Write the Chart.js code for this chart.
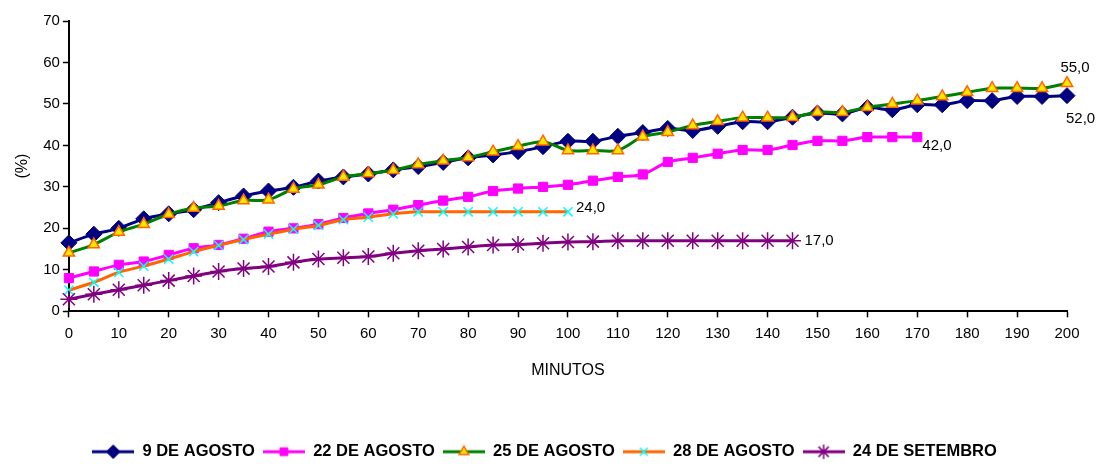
<!DOCTYPE html>
<html>
<head>
<meta charset="utf-8">
<title>Curvas por minuto</title>
<script src="https://cdn.jsdelivr.net/npm/chart.js@4.4.1/dist/chart.umd.min.js"></script>
<style>
  html, body { margin: 0; padding: 0; background: #fff; }
  canvas { display: block; }
</style>
</head>
<body>
<canvas id="curvas" width="1098" height="465"></canvas>
<script>
// Minutes (x) and readings (%) for each day
const minutos = [0, 5, 10, 15, 20, 25, 30, 35, 40, 45, 50, 55, 60, 65, 70, 75, 80, 85, 90, 95,
  100, 105, 110, 115, 120, 125, 130, 135, 140, 145, 150, 155, 160, 165, 170, 175, 180, 185, 190, 195, 200];

const agosto9 = [16.5, 18.6, 20, 22.3, 23.5, 24.5, 26.2, 27.8, 29, 29.9, 31.4, 32.4, 33.1, 34.1, 34.9, 35.9,
  37, 37.7, 38.5, 39.7, 41, 41, 42.2, 43.1, 44.1, 43.6, 44.6, 45.7, 45.7, 46.8, 47.8, 47.6, 49.1, 48.6,
  49.8, 49.8, 50.8, 50.8, 51.8, 51.8, 52];
const agosto22 = [8, 9.6, 11.2, 12, 13.6, 15.2, 16, 17.5, 19.2, 20, 21, 22.5, 23.6, 24.5, 25.6, 26.7,
  27.6, 29, 29.6, 30, 30.5, 31.5, 32.4, 33, 36, 37, 38, 38.9, 38.9, 40.1, 41.1, 41.1, 42, 42, 42];
const agosto25 = [14.1, 16.1, 19.1, 21, 23.4, 24.9, 25.4, 26.7, 26.9, 29.5, 30.5, 32.4, 33.2, 34, 35.4, 36.3,
  37.1, 38.5, 39.8, 40.9, 38.8, 38.8, 38.8, 42.1, 43.2, 44.8, 45.8, 46.7, 46.7, 46.8, 48, 48, 49.2, 50,
  50.8, 51.8, 52.8, 53.8, 53.8, 53.8, 55];
const agosto28 = [5.1, 7, 9.4, 10.9, 12.6, 14.4, 15.9, 17.3, 18.6, 19.8, 20.7, 22.1, 22.7, 23.5, 24, 24,
  24, 24, 24, 24, 24];
const setembro24 = [2.9, 4.1, 5.2, 6.3, 7.4, 8.5, 9.6, 10.3, 10.8, 11.8, 12.6, 12.9, 13.2, 14, 14.6, 15,
  15.5, 16, 16.1, 16.4, 16.7, 16.8, 17, 17, 17, 17, 17, 17, 17, 17];

const yTicks = [0, 10, 20, 30, 40, 50, 60, 70];

const FONTE = '"Liberation Sans", Arial, sans-serif';

function pontos(valores) {
  return valores.map((v, i) => ({ x: minutos[i], y: v }));
}

// line styles per series
const estilos = [
  { label: '9 DE AGOSTO',    data: agosto9,    linha: '#000080', ponto: 'rectRot',  fundo: '#000080', borda: '#000080', raio: 8,   bw: 1 },
  { label: '22 DE AGOSTO',   data: agosto22,   linha: '#FF00FF', ponto: 'rect',     fundo: '#FF00FF', borda: '#FF00FF', raio: 6.5, bw: 1 },
  { label: '25 DE AGOSTO',   data: agosto25,   linha: '#008000', ponto: 'triangle', fundo: '#FFE600', borda: '#FF6600', raio: 6.5, bw: 1.5 },
  { label: '28 DE AGOSTO',   data: agosto28,   linha: '#FF6600', ponto: 'crossRot', fundo: '#00FFFF', borda: '#00FFFF', raio: 6.5, bw: 1.5 },
  { label: '24 DE SETEMBRO', data: setembro24, linha: '#800080', ponto: 'star',     fundo: '#800080', borda: '#800080', raio: 8.5, bw: 1.5 }
];

// small line+marker icons for the legend
function icone(e) {
  const c = document.createElement('canvas');
  c.width = 42; c.height = 18;
  const ctx = c.getContext('2d');
  ctx.strokeStyle = e.linha;
  ctx.lineWidth = 3;
  ctx.beginPath();
  ctx.moveTo(0, 9); ctx.lineTo(42, 9);
  ctx.stroke();
  if (Chart.helpers && Chart.helpers.drawPoint) {
    ctx.fillStyle = e.fundo;
    ctx.strokeStyle = e.borda;
    ctx.lineWidth = e.bw;
    Chart.helpers.drawPoint(ctx, { pointStyle: e.ponto, radius: e.raio * 0.85, borderWidth: e.bw, rotation: 0 }, 21, 9);
  }
  return c;
}

const icones = estilos.map(icone);

// value labels at the end of some series: [dataset, index, dx, dy, align]
const rotulos = [
  [2, 40, 8, -15, 'center'],
  [0, 40, -1, 23, 'left'],
  [1, 34, 5, 9, 'left'],
  [3, 20, 8, -4, 'left'],
  [4, 29, 12, 0, 'left']
];

const rotulosPlugin = {
  id: 'rotulos',
  afterDatasetsDraw(chart) {
    const ctx = chart.ctx;
    ctx.save();
    ctx.font = '15px ' + FONTE;
    ctx.fillStyle = '#000';
    ctx.textBaseline = 'middle';
    rotulos.forEach(([ds, idx, dx, dy, align]) => {
      const el = chart.getDatasetMeta(ds).data[idx];
      const v = chart.data.datasets[ds].data[idx].y;
      ctx.textAlign = align;
      ctx.fillText(v.toFixed(1).replace('.', ','), el.x + dx, el.y + dy);
    });
    ctx.restore();
  }
};

// nudge the legend row a little to the right
const legendaPlugin = {
  id: 'legendaDesloc',
  afterLayout(chart) {
    if (chart.legend) {
      chart.legend.left += 7;
      chart.legend.right += 7;
    }
  }
};

new Chart(document.getElementById('curvas'), {
  type: 'line',
  data: {
    datasets: estilos.map((e, i) => ({
      label: e.label,
      data: pontos(e.data),
      borderColor: e.linha,
      borderWidth: 3,
      backgroundColor: e.fundo,
      pointStyle: e.ponto,
      pointRadius: e.raio,
      pointHoverRadius: e.raio,
      pointBackgroundColor: e.fundo,
      pointBorderColor: e.borda,
      pointBorderWidth: e.bw,
      tension: 0.3,
      fill: false,
      clip: false,
      order: estilos.length - i
    }))
  },
  options: {
    responsive: false,
    animation: false,
    layout: { padding: { left: 8, right: 31, top: 21, bottom: -5 } },
    scales: {
      x: {
        type: 'linear',
        min: 0,
        max: 200,
        ticks: { stepSize: 10, color: '#000', font: { family: FONTE, size: 15 }, padding: 8, maxRotation: 0 },
        grid: { drawOnChartArea: false, drawTicks: true, tickLength: 6, color: '#000', tickWidth: 1.5 },
        border: { color: '#000', width: 2 },
        title: { display: true, text: 'MINUTOS', color: '#000', font: { family: FONTE, size: 16 }, padding: { top: 10, bottom: 55 } }
      },
      y: {
        min: 0,
        max: 70,
        afterBuildTicks(scale) { scale.ticks = yTicks.map(v => ({ value: v })); },
        ticks: { color: '#000', font: { family: FONTE, size: 15 }, padding: 3 },
        grid: { drawOnChartArea: false, drawTicks: true, tickLength: 6, color: '#000', tickWidth: 1.5 },
        border: { color: '#000', width: 2 },
        title: { display: true, text: '(%)', color: '#000', font: { family: FONTE, size: 16 }, padding: { top: 5, bottom: 8 } }
      }
    },
    plugins: {
      legend: {
        position: 'bottom',
        labels: {
          usePointStyle: true,
          pointStyleWidth: 42,
          padding: 8,
          color: '#000',
          font: { family: FONTE, size: 16.5, weight: 'bold' },
          generateLabels(chart) {
            const itens = Chart.defaults.plugins.legend.labels.generateLabels(chart);
            itens.sort((a, b) => a.datasetIndex - b.datasetIndex);
            itens.forEach(it => { it.pointStyle = icones[it.datasetIndex]; });
            return itens;
          }
        }
      },
      tooltip: { enabled: false }
    }
  },
  plugins: [rotulosPlugin, legendaPlugin]
});
</script>
</body>
</html>
